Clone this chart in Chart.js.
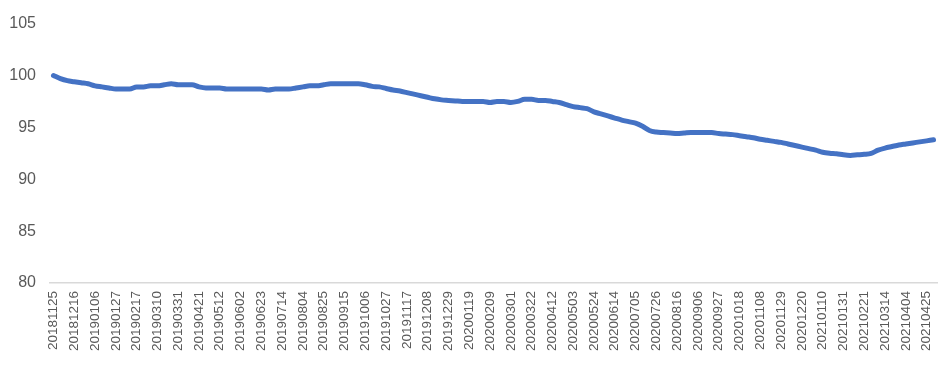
<!DOCTYPE html>
<html>
<head>
<meta charset="utf-8">
<script src="https://cdn.jsdelivr.net/npm/chart.js@4/dist/chart.umd.min.js"></script>
<style>
  html, body { margin: 0; padding: 0; background: #fff; }
  #wrap { width: 948px; height: 367px; }
</style>
</head>
<body>
<div id="wrap"><canvas id="myChart" width="948" height="367"></canvas></div>
<script>
// weekly dates, 20181125 .. 20210502
const firstWeek = "2018-11-25";
const weekCount = 128;

const values = [
  100.0, 99.7, 99.5, 99.4, 99.3, 99.2, 99.0, 98.9, 98.8, 98.7,
  98.7, 98.7, 98.9, 98.9, 99.0, 99.0, 99.1, 99.2, 99.1, 99.1,
  99.1, 98.9, 98.8, 98.8, 98.8, 98.7, 98.7, 98.7, 98.7, 98.7,
  98.7, 98.6, 98.7, 98.7, 98.7, 98.8, 98.9, 99.0, 99.0, 99.1,
  99.2, 99.2, 99.2, 99.2, 99.2, 99.1, 98.95, 98.9, 98.75, 98.6,
  98.5, 98.35, 98.2, 98.05, 97.9, 97.75, 97.65, 97.6, 97.55, 97.5,
  97.5, 97.5, 97.5, 97.4, 97.5, 97.5, 97.4, 97.5, 97.7, 97.7,
  97.6, 97.6, 97.5, 97.4, 97.2, 97.0, 96.9, 96.8, 96.5, 96.3,
  96.1, 95.9, 95.7, 95.55, 95.4, 95.1, 94.7, 94.55, 94.5, 94.45,
  94.4, 94.45, 94.5, 94.5, 94.5, 94.5, 94.4, 94.35, 94.3, 94.2,
  94.1, 94.0, 93.85, 93.75, 93.65, 93.55, 93.4, 93.25, 93.1, 92.95,
  92.8, 92.6, 92.5, 92.45, 92.35, 92.3, 92.35, 92.4, 92.5, 92.8,
  93.0, 93.15, 93.3, 93.4, 93.5, 93.6, 93.7, 93.8
];

const yTicks = [80, 85, 90, 95, 100, 105];

let labels = [];
let d = new Date(firstWeek + "T00:00:00Z");
for (let i = 0; i < weekCount; i++) {
  let y = d.getUTCFullYear();
  let m = String(d.getUTCMonth() + 1).padStart(2, "0");
  let day = String(d.getUTCDate()).padStart(2, "0");
  labels.push(`${y}${m}${day}`);
  d.setUTCDate(d.getUTCDate() + 7);
}

const grey = "#595959";

var ctx = document.getElementById("myChart").getContext("2d");
var myChart = new Chart(ctx, {
  type: "line",
  data: {
    labels: labels,
    datasets: [{
      data: values,
      borderColor: "#4472C4",
      borderWidth: 5,
      borderCapStyle: "round",
      borderJoinStyle: "round",
      pointRadius: 0,
      tension: 0.4,
      cubicInterpolationMode: "monotone",
      fill: false
    }]
  },
  options: {
    responsive: false,
    animation: false,
    layout: { padding: { top: 16, right: 11, bottom: 0, left: 0 } },
    plugins: { legend: { display: false }, tooltip: { enabled: false } },
    scales: {
      x: {
        offset: true,
        grid: { display: false, drawTicks: false },
        border: { display: true, color: "#d9d9d9", width: 1.5 },
        ticks: {
          autoSkip: false,
          minRotation: 90,
          maxRotation: 90,
          padding: 8,
          color: grey,
          font: { family: "Liberation Sans, Arial, sans-serif", size: 13.5 },
          callback: function (val, idx) {
            return idx % 3 === 0 ? labels[idx] : "";
          }
        },
        afterFit: function (axis) {
          axis.height = 84;
          // rotated labels otherwise push the plot in from the right
          axis.paddingLeft = 0;
          axis.paddingRight = 0;
        }
      },
      y: {
        min: 80,
        max: 105,
        afterBuildTicks: function (axis) {
          axis.ticks = yTicks.map(v => ({ value: v }));
        },
        grid: { display: false, drawTicks: false },
        border: { display: false },
        ticks: {
          padding: 14,
          color: grey,
          font: { family: "Liberation Sans, Arial, sans-serif", size: 16 }
        },
        afterFit: function (axis) { axis.width = 50; }
      }
    }
  }
});
</script>
</body>
</html>
